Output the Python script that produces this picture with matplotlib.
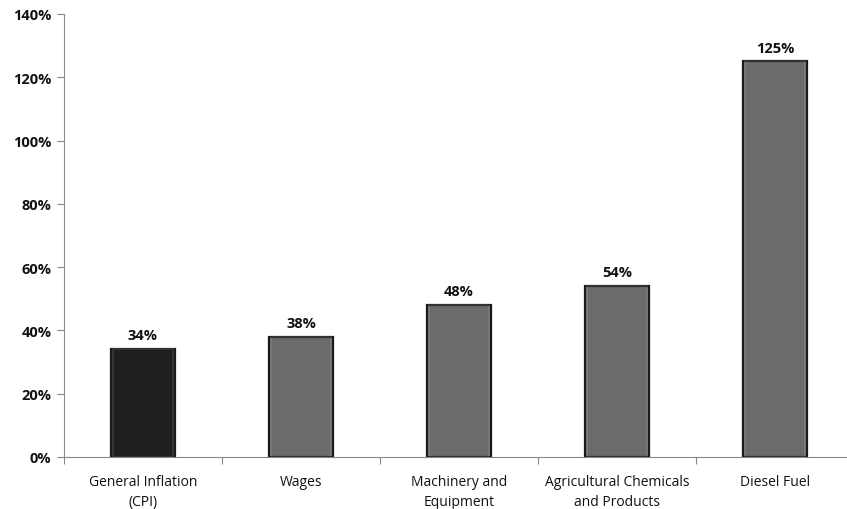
import matplotlib
matplotlib.use("Agg")
import matplotlib.pyplot as plt
from matplotlib.ticker import FuncFormatter, MultipleLocator

categories = ["General Inflation\n(CPI)", "Wages", "Machinery and\nEquipment",
              "Agricultural Chemicals\nand Products", "Diesel Fuel"]
values = [34, 38, 48, 54, 125]
colors = ["#1f1f1f", "#6b6b6b", "#6b6b6b", "#6b6b6b", "#6b6b6b"]

plt.rcParams['font.family'] = ['Open Sans', 'DejaVu Sans']

fig = plt.figure(figsize=(8.47, 5.10), dpi=100)
ax = fig.add_axes([64/847, 1-458/510, (854-64)/847, (458-15)/510])

x = list(range(len(categories)))
ax.bar(x, values, width=0.41, color=colors, edgecolor="#1a1a1a", linewidth=1.6, zorder=3)
# inner bevel highlight
ax.bar(x, values, width=0.38, color="none", edgecolor=(1, 1, 1, 0.12), linewidth=1.2, zorder=4)

for xi, v in zip(x, values):
    ax.text(xi, v + 2.2, f"{v}%", ha="center", va="bottom", fontsize=10.5, fontweight="bold", color="#111111")

ax.set_xlim(-0.5, len(categories) - 0.5)
ax.set_ylim(0, 140)
ax.yaxis.set_major_locator(MultipleLocator(20))
ax.yaxis.set_major_formatter(FuncFormatter(lambda v, p: f"{int(v)}%"))
for lbl in ax.get_yticklabels():
    lbl.set_fontweight("bold")
ax.tick_params(axis="y", labelsize=10.5, length=5, width=0.8, color="#888888", pad=4, labelcolor="#111111")

ax.set_xticks(x)
ax.set_xticklabels(categories, fontsize=10, color="#111111", linespacing=1.45)
ax.set_xticks([i + 0.5 for i in range(-1, len(categories))], minor=True)
ax.tick_params(axis="x", which="major", length=0, pad=12)
ax.tick_params(axis="x", which="minor", length=5, width=0.8, color="#888888")

for s in ["top", "right"]:
    ax.spines[s].set_visible(False)
ax.spines["left"].set_color("#888888")
ax.spines["bottom"].set_color("#888888")
ax.spines["left"].set_linewidth(0.8)
ax.spines["bottom"].set_linewidth(0.8)

fig.savefig("out.png", dpi=100)
